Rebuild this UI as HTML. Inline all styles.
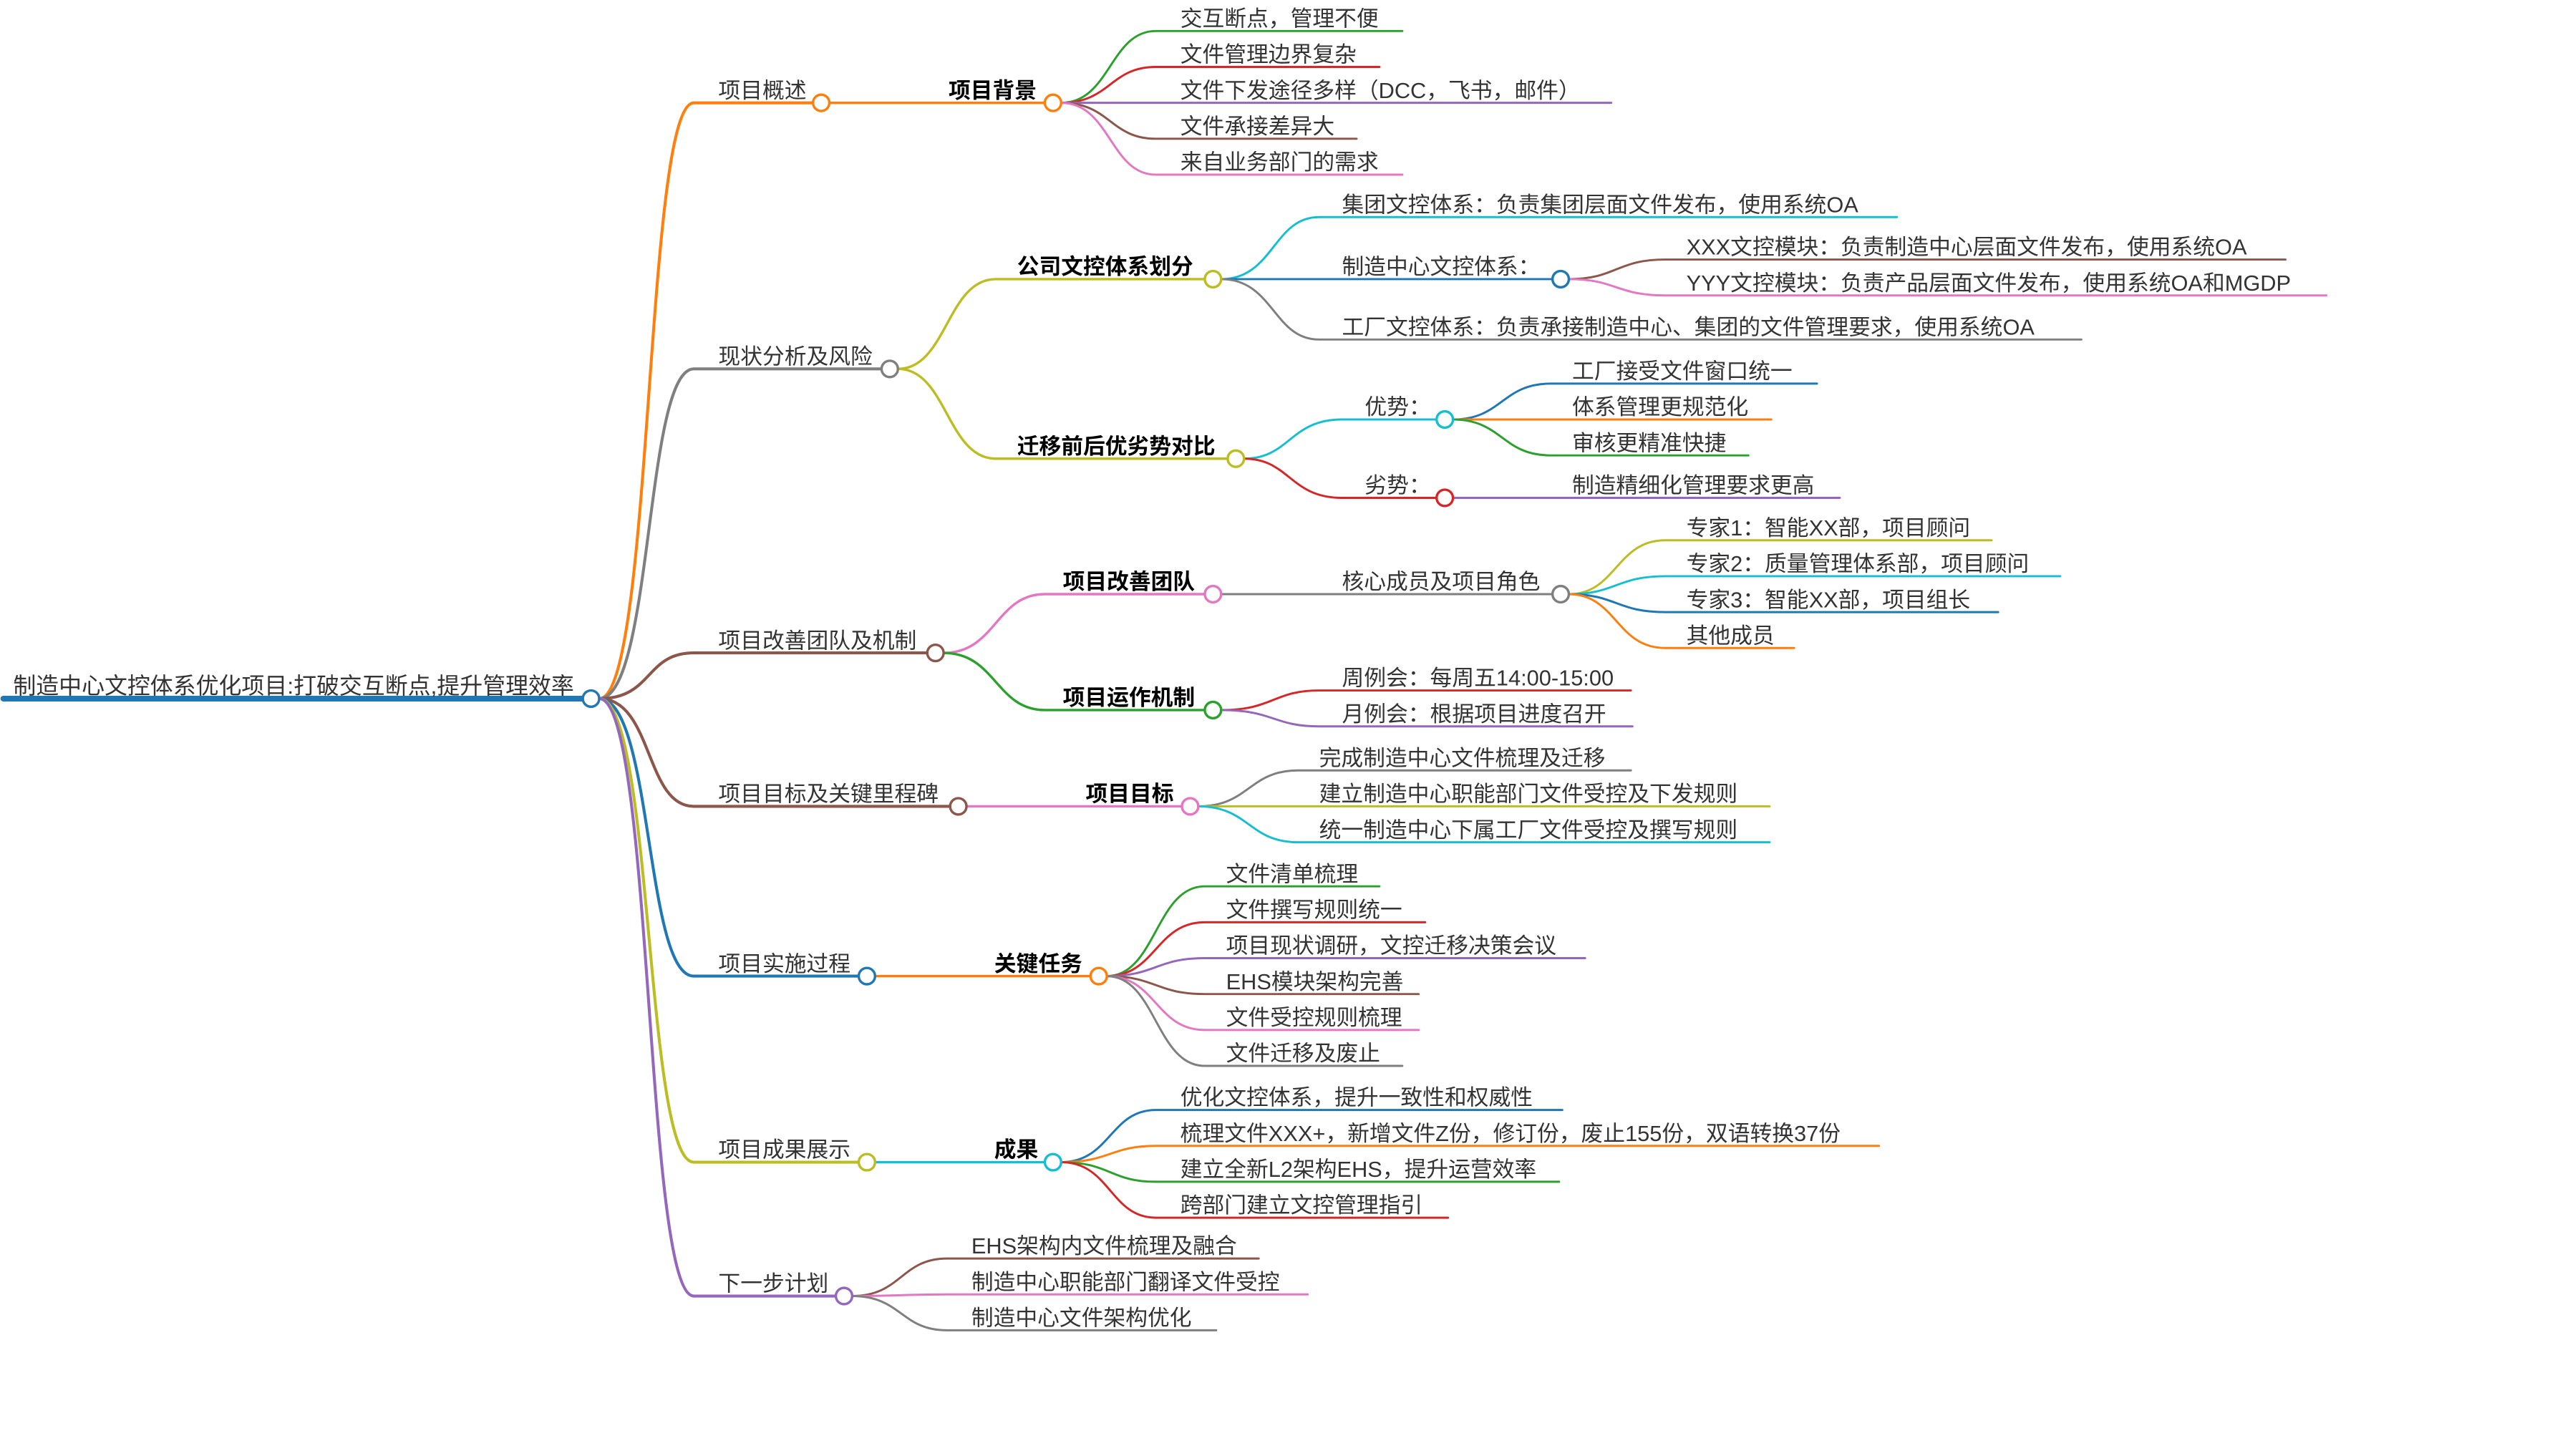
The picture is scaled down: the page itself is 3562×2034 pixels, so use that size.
<!DOCTYPE html>
<html><head><meta charset="utf-8"><style>
html,body{margin:0;padding:0;background:#fff;}
svg{display:block;}
text{font-family:"Liberation Sans","Noto Sans CJK SC",sans-serif;font-size:13.5px;fill:#333;}
text.b{font-weight:bold;fill:#000;}
path{fill:none;stroke-linecap:round;}
circle{fill:#fff;stroke-width:1.5;}
</style></head><body>
<svg width="3562" height="2034" viewBox="0 0 1562 892" xmlns="http://www.w3.org/2000/svg">
<!-- root -->
<path d="M2 428 L357 428" stroke="#1f77b4" stroke-width="3.5"/>
<text x="8" y="425" style="font-size:14px">制造中心文控体系优化项目:打破交互断点,提升管理效率</text>

<!-- level1 links -->
<g stroke-width="1.8">
<path d="M367 428 C400 428 395 63 425 63 L498 63" stroke="#ff7f0e"/>
<path d="M367 428 C400 428 395 226 425 226 L540 226" stroke="#7f7f7f"/>
<path d="M367 428 C400 428 395 400 425 400 L568 400" stroke="#8c564b"/>
<path d="M367 428 C400 428 395 494 425 494 L582 494" stroke="#8c564b"/>
<path d="M367 428 C400 428 395 598 425 598 L526 598" stroke="#1f77b4"/>
<path d="M367 428 C400 428 395 712 425 712 L526 712" stroke="#bcbd22"/>
<path d="M367 428 C400 428 395 794 425 794 L512 794" stroke="#9467bd"/>
</g>
<circle cx="362" cy="428" r="5" stroke="#1f77b4" stroke-width="2"/>
<text x="440" y="60">项目概述</text>
<text x="440" y="223">现状分析及风险</text>
<text x="440" y="397">项目改善团队及机制</text>
<text x="440" y="491">项目目标及关键里程碑</text>
<text x="440" y="595">项目实施过程</text>
<text x="440" y="709">项目成果展示</text>
<text x="440" y="791">下一步计划</text>

<!-- level2 links -->
<g stroke-width="1.5">
<path d="M508 63 L640 63" stroke="#ff7f0e"/>
<path d="M550 226 C580 226 580 171 610 171 L738 171" stroke="#bcbd22"/>
<path d="M550 226 C580 226 580 281 610 281 L752 281" stroke="#bcbd22"/>
<path d="M578 400 C610 400 610 364 640 364 L738 364" stroke="#e377c2"/>
<path d="M578 400 C610 400 610 435 640 435 L738 435" stroke="#2ca02c"/>
<path d="M592 494 L724 494" stroke="#e377c2"/>
<path d="M536 598 L668 598" stroke="#ff7f0e"/>
<path d="M536 712 L640 712" stroke="#17becf"/>
</g>
<text class="b" x="581" y="60">项目背景</text>
<text class="b" x="623" y="168">公司文控体系划分</text>
<text class="b" x="623" y="278">迁移前后优劣势对比</text>
<text class="b" x="651" y="361">项目改善团队</text>
<text class="b" x="651" y="432">项目运作机制</text>
<text class="b" x="665" y="491">项目目标</text>
<text class="b" x="609" y="595">关键任务</text>
<text class="b" x="609" y="709">成果</text>

<!-- 项目背景 children -->
<g stroke-width="1.3">
<path d="M650 63 C680 63 680 19 708 19 L859 19" stroke="#2ca02c"/>
<path d="M650 63 C680 63 680 41 708 41 L845 41" stroke="#d62728"/>
<path d="M650 63 L987 63" stroke="#9467bd"/>
<path d="M650 63 C680 63 680 85 708 85 L831 85" stroke="#8c564b"/>
<path d="M650 63 C680 63 680 107 708 107 L859 107" stroke="#e377c2"/>
</g>
<text x="723" y="16">交互断点，管理不便</text>
<text x="723" y="38">文件管理边界复杂</text>
<text x="723" y="60">文件下发途径多样（DCC，飞书，邮件）</text>
<text x="723" y="82">文件承接差异大</text>
<text x="723" y="104">来自业务部门的需求</text>

<!-- 公司文控体系划分 children -->
<g stroke-width="1.3">
<path d="M748 171 C780 171 780 133 808 133 L1162 133" stroke="#17becf"/>
<path d="M748 171 L951 171" stroke="#1f77b4"/>
<path d="M748 171 C780 171 780 208 808 208 L1275 208" stroke="#7f7f7f"/>
<path d="M961 171 C990 171 990 159 1020 159 L1400 159" stroke="#8c564b"/>
<path d="M961 171 C990 171 990 181 1020 181 L1425 181" stroke="#e377c2"/>
</g>
<text x="822" y="130">集团文控体系：负责集团层面文件发布，使用系统OA</text>
<text x="822" y="168">制造中心文控体系：</text>
<text x="822" y="205">工厂文控体系：负责承接制造中心、集团的文件管理要求，使用系统OA</text>
<text x="1033" y="156">XXX文控模块：负责制造中心层面文件发布，使用系统OA</text>
<text x="1033" y="178">YYY文控模块：负责产品层面文件发布，使用系统OA和MGDP</text>

<!-- 迁移前后 children -->
<g stroke-width="1.3">
<path d="M762 281 C790 281 790 257 822 257 L880 257" stroke="#17becf"/>
<path d="M762 281 C790 281 790 305 822 305 L880 305" stroke="#d62728"/>
<path d="M890 257 C920 257 920 235 950 235 L1113 235" stroke="#1f77b4"/>
<path d="M890 257 L1085 257" stroke="#ff7f0e"/>
<path d="M890 257 C920 257 920 279 950 279 L1071 279" stroke="#2ca02c"/>
<path d="M890 305 L1127 305" stroke="#9467bd"/>
</g>
<text x="836" y="254">优势：</text>
<text x="836" y="302">劣势：</text>
<text x="963" y="232">工厂接受文件窗口统一</text>
<text x="963" y="254">体系管理更规范化</text>
<text x="963" y="276">审核更精准快捷</text>
<text x="963" y="302">制造精细化管理要求更高</text>

<!-- 项目改善团队 children -->
<g stroke-width="1.3">
<path d="M748 364 L951 364" stroke="#7f7f7f"/>
<path d="M961 364 C990 364 990 331 1020 331 L1220 331" stroke="#bcbd22"/>
<path d="M961 364 C990 364 990 353 1020 353 L1262 353" stroke="#17becf"/>
<path d="M961 364 C990 364 990 375 1020 375 L1224 375" stroke="#1f77b4"/>
<path d="M961 364 C990 364 990 397 1020 397 L1099 397" stroke="#ff7f0e"/>
</g>
<text x="822" y="361">核心成员及项目角色</text>
<text x="1033" y="328">专家1：智能XX部，项目顾问</text>
<text x="1033" y="350">专家2：质量管理体系部，项目顾问</text>
<text x="1033" y="372">专家3：智能XX部，项目组长</text>
<text x="1033" y="394">其他成员</text>

<!-- 项目运作机制 children -->
<g stroke-width="1.3">
<path d="M748 435 C780 435 780 423 808 423 L999 423" stroke="#d62728"/>
<path d="M748 435 C780 435 780 445 808 445 L1000 445" stroke="#9467bd"/>
</g>
<text x="822" y="420">周例会：每周五14:00-15:00</text>
<text x="822" y="442">月例会：根据项目进度召开</text>

<!-- 项目目标 children -->
<g stroke-width="1.3">
<path d="M734 494 C765 494 765 472 795 472 L999 472" stroke="#7f7f7f"/>
<path d="M734 494 L1084 494" stroke="#bcbd22"/>
<path d="M734 494 C765 494 765 516 795 516 L1084 516" stroke="#17becf"/>
</g>
<text x="808" y="469">完成制造中心文件梳理及迁移</text>
<text x="808" y="491">建立制造中心职能部门文件受控及下发规则</text>
<text x="808" y="513">统一制造中心下属工厂文件受控及撰写规则</text>

<!-- 关键任务 children -->
<g stroke-width="1.3">
<path d="M678 598 C708 598 708 543 738 543 L845 543" stroke="#2ca02c"/>
<path d="M678 598 C708 598 708 565 738 565 L873 565" stroke="#d62728"/>
<path d="M678 598 C708 598 708 587 738 587 L971 587" stroke="#9467bd"/>
<path d="M678 598 C708 598 708 609 738 609 L869 609" stroke="#8c564b"/>
<path d="M678 598 C708 598 708 631 738 631 L869 631" stroke="#e377c2"/>
<path d="M678 598 C708 598 708 653 738 653 L859 653" stroke="#7f7f7f"/>
</g>
<text x="751" y="540">文件清单梳理</text>
<text x="751" y="562">文件撰写规则统一</text>
<text x="751" y="584">项目现状调研，文控迁移决策会议</text>
<text x="751" y="606">EHS模块架构完善</text>
<text x="751" y="628">文件受控规则梳理</text>
<text x="751" y="650">文件迁移及废止</text>

<!-- 成果 children -->
<g stroke-width="1.3">
<path d="M650 712 C680 712 680 680 708 680 L957 680" stroke="#1f77b4"/>
<path d="M650 712 C680 712 680 702 708 702 L1151 702" stroke="#ff7f0e"/>
<path d="M650 712 C680 712 680 724 708 724 L955 724" stroke="#2ca02c"/>
<path d="M650 712 C680 712 680 746 708 746 L887 746" stroke="#d62728"/>
</g>
<text x="723" y="677">优化文控体系，提升一致性和权威性</text>
<text x="723" y="699">梳理文件XXX+，新增文件Z份，修订份，废止155份，双语转换37份</text>
<text x="723" y="721">建立全新L2架构EHS，提升运营效率</text>
<text x="723" y="743">跨部门建立文控管理指引</text>

<!-- 下一步计划 children -->
<g stroke-width="1.3">
<path d="M522 794 C552 794 552 771 580 771 L771 771" stroke="#8c564b"/>
<path d="M522 794 C552 794 552 793 580 793 L801 793" stroke="#e377c2"/>
<path d="M522 794 C552 794 552 815 580 815 L745 815" stroke="#7f7f7f"/>
</g>
<text x="595" y="768">EHS架构内文件梳理及融合</text>
<text x="595" y="790">制造中心职能部门翻译文件受控</text>
<text x="595" y="812">制造中心文件架构优化</text>

<!-- circles -->
<circle cx="503" cy="63" r="5" stroke="#ff7f0e"/>
<circle cx="545" cy="226" r="5" stroke="#7f7f7f"/>
<circle cx="573" cy="400" r="5" stroke="#8c564b"/>
<circle cx="587" cy="494" r="5" stroke="#8c564b"/>
<circle cx="531" cy="598" r="5" stroke="#1f77b4"/>
<circle cx="531" cy="712" r="5" stroke="#bcbd22"/>
<circle cx="517" cy="794" r="5" stroke="#9467bd"/>
<circle cx="645" cy="63" r="5" stroke="#ff7f0e"/>
<circle cx="743" cy="171" r="5" stroke="#bcbd22"/>
<circle cx="757" cy="281" r="5" stroke="#bcbd22"/>
<circle cx="743" cy="364" r="5" stroke="#e377c2"/>
<circle cx="743" cy="435" r="5" stroke="#2ca02c"/>
<circle cx="729" cy="494" r="5" stroke="#e377c2"/>
<circle cx="673" cy="598" r="5" stroke="#ff7f0e"/>
<circle cx="645" cy="712" r="5" stroke="#17becf"/>
<circle cx="956" cy="171" r="5" stroke="#1f77b4"/>
<circle cx="885" cy="257" r="5" stroke="#17becf"/>
<circle cx="885" cy="305" r="5" stroke="#d62728"/>
<circle cx="956" cy="364" r="5" stroke="#7f7f7f"/>
</svg>
</body></html>
